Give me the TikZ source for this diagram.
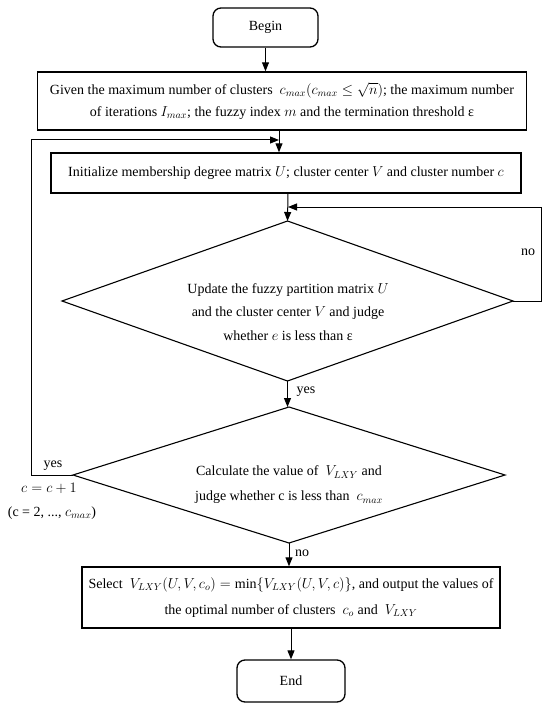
\documentclass[tikz,border=0pt]{standalone}
\usepackage{fontspec}
\setmainfont{Liberation Serif}
\usepackage{amsmath,amssymb}
\usetikzlibrary{arrows.meta,shapes.geometric}

\begin{document}
\begin{tikzpicture}[x=1pt, y=-1pt, line width=1pt, font=\fontsize{14}{22}\selectfont,
  procbox/.style={draw, line width=1.4pt, inner sep=0pt, align=center},
  termbox/.style={draw, line width=1.3pt, rounded corners=8pt, inner sep=0pt},
  decbox/.style={draw, diamond, line width=1.1pt, inner sep=0pt, outer sep=0pt},
  arr/.style={-{Triangle[length=9pt,width=7pt]}, line width=1pt}]
	\useasboundingbox (0,0) rectangle (550,714);
	\node[termbox, minimum width=105pt, minimum height=39pt] (begin) at (265.5,27.5) {Begin};
	\node[procbox, minimum width=489pt, minimum height=58pt] (given) at (282,101)
	  {Given the maximum number of clusters \ $c_{max}(c_{max} \leq \sqrt{n})$; the maximum number\\
	   of iterations $I_{max}$; the fuzzy index $m$ and the termination threshold ε};
	\node[procbox, minimum width=470pt, minimum height=40pt] (init) at (286,173)
	  {Initialize membership degree matrix $U$; cluster center $V$ and cluster number $c$};
	\node[decbox, minimum width=451pt, minimum height=160pt] (upd) at (287.5,301) {};
	\node[align=center] (updtxt) at (288,312)
	  {Update the fuzzy partition matrix $U$\\[1.5pt] and the cluster center $V$ and judge\\[1.5pt] whether $e$ is less than ε};
	\node[decbox, minimum width=432pt, minimum height=136pt] (calc) at (289,475) {};
	\node[align=center] (calctxt) at (289,485)
	  {Calculate the value of \ $V_{LXY}$ and\\[3pt] judge whether c is less than \ $c_{max}$};
	\node[procbox, minimum width=418pt, minimum height=61pt] (select) at (291,597.5)
	  {Select \ $V_{LXY}(U,V,c_o) = \min\{V_{LXY}(U,V,c)\}$, and output the values of\\[4pt]
	   the optimal number of clusters \ $c_o$ and \ $V_{LXY}$};
	\node[termbox, minimum width=108pt, minimum height=42pt] (stop) at (291,681) {End};
	\coordinate (nojoin) at (288,207);
	\coordinate (yesjoin) at (279,140);
	\draw[arr] (begin.south) -- (begin.south |- given.north);
	\draw[arr] (given.south -| yesjoin) -- (yesjoin |- init.north);
	\draw[arr] (init.south -| nojoin) -- (upd.north);
	\draw[arr] (upd.south) -- (upd.south |- calc.north);
	\draw[arr] (calc.south) -- (calc.south |- select.north);
	\draw[arr] (select.south) -- (select.south |- stop.north);
	\draw[arr] (upd.east) -- ++(28,0) |- (nojoin);
	\draw[arr] (calc.west) -- ++(-42,0) |- (yesjoin);
	\node (nolbl) at (528,252) {no};
	\node (yeslbl) at (306,392) {yes};
	\node (nolbl2) at (302,553) {no};
	\node (yeslbl2) at (53,466) {yes};
	\node (incr) at (49,488) {$c = c + 1$};
	\node (range) at (52,513) {(c = 2, ..., $c_{max}$)};
\end{tikzpicture}
\end{document}
